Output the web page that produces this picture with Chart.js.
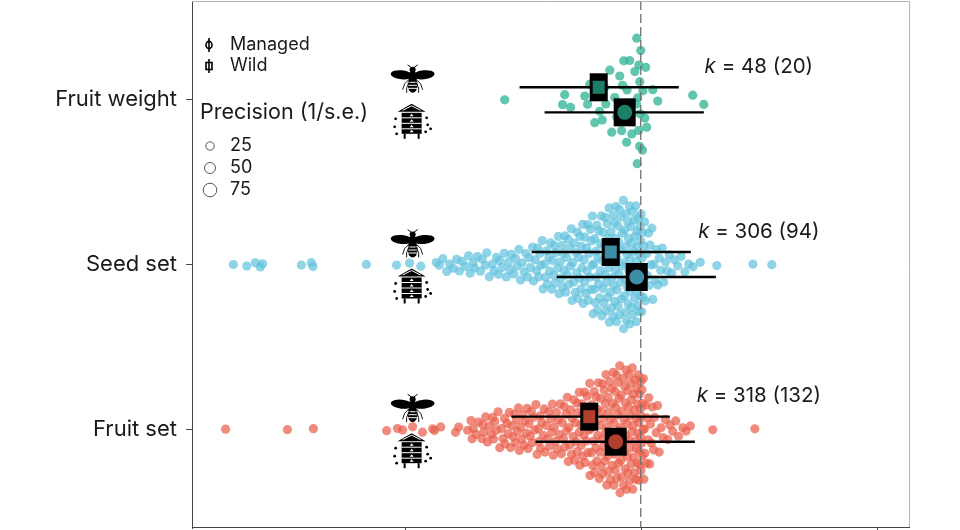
<!DOCTYPE html>
<html>
<head>
<meta charset="utf-8">
<script src="https://cdn.jsdelivr.net/npm/chart.js@4.4.1/dist/chart.umd.min.js"></script>
<style>
  html, body { margin: 0; padding: 0; background: #fff; }
  #wrap { width: 960px; height: 530px; position: relative; }
</style>
</head>
<body>
<div id="wrap"><canvas id="chart"></canvas></div>
<script>
// categories from bottom (y = 1) to top (y = 3)
const categories = ['Fruit set', 'Seed set', 'Fruit weight'];

// effect sizes of single studies
const fruitWeightValues = [
  -0.576, -0.331, -0.322, -0.297, -0.237, -0.225, -0.216, -0.195, -0.178, -0.174,
  -0.165, -0.163, -0.153, -0.148, -0.131, -0.123, -0.110, -0.102, -0.089, -0.081,
  -0.077, -0.075, -0.072, -0.060, -0.058, -0.051, -0.047, -0.038, -0.025, -0.018,
  -0.017, -0.015, -0.013, -0.009, -0.008, -0.005, -0.004, -0.003, 0.000, 0.007,
  0.009, 0.017, 0.021, 0.025, 0.051, 0.072, 0.220, 0.267
];

const seedSetValues = [
  -1.725, -1.668, -1.632, -1.611, -1.601, -1.437, -1.395, -1.388, -1.162, -1.034, -0.979, -0.931, -0.866,
  -0.853, -0.838, -0.821, -0.809, -0.794, -0.779, -0.768, -0.757, -0.741, -0.729,
  -0.722, -0.709, -0.704, -0.691, -0.679, -0.671, -0.658, -0.652, -0.641, -0.628,
  -0.622, -0.611, -0.603, -0.598, -0.587, -0.578, -0.569, -0.561, -0.553, -0.548, -0.537, -0.531,
  -0.524, -0.516, -0.509, -0.502, -0.494, -0.486, -0.479,
  -0.473, -0.467, -0.458, -0.454, -0.447, -0.441, -0.436, -0.432, -0.427,
  -0.423, -0.417, -0.414, -0.408, -0.403, -0.399, -0.396, -0.389, -0.386, -0.382, -0.376,
  -0.374, -0.369, -0.366, -0.362, -0.358, -0.352, -0.349, -0.346, -0.341, -0.338, -0.334, -0.331, -0.327,
  -0.324, -0.321, -0.318, -0.314, -0.311, -0.307, -0.304, -0.301, -0.298, -0.294, -0.291, -0.288, -0.284, -0.281, -0.277,
  -0.274, -0.271, -0.268, -0.266, -0.263, -0.259, -0.257, -0.253, -0.251, -0.249, -0.246, -0.244, -0.240, -0.237, -0.236, -0.232, -0.229, -0.227,
  -0.224, -0.222, -0.219, -0.216, -0.214, -0.212, -0.209, -0.206, -0.205, -0.202, -0.199, -0.197, -0.195, -0.192, -0.190, -0.188, -0.186, -0.183, -0.181, -0.179, -0.177,
  -0.174, -0.171, -0.171, -0.167, -0.165, -0.163, -0.160, -0.159, -0.156, -0.155, -0.152, -0.151, -0.148, -0.146, -0.146, -0.142, -0.140, -0.139, -0.136, -0.134, -0.133, -0.130, -0.128, -0.126,
  -0.124, -0.122, -0.121, -0.118, -0.117, -0.115, -0.114, -0.111, -0.110, -0.108, -0.106, -0.105, -0.103, -0.101, -0.100, -0.097, -0.096, -0.094, -0.092, -0.091, -0.089, -0.087, -0.085, -0.084, -0.081, -0.079, -0.077,
  -0.074, -0.073, -0.071, -0.069, -0.068, -0.066, -0.064, -0.063, -0.061, -0.060, -0.058, -0.056, -0.055, -0.053, -0.052, -0.050, -0.048, -0.047, -0.045, -0.044, -0.042, -0.040, -0.039, -0.037, -0.035, -0.034, -0.032, -0.030, -0.029, -0.026,
  -0.024, -0.022, -0.021, -0.019, -0.018, -0.016, -0.015, -0.013, -0.012, -0.010, -0.009, -0.007, -0.006, -0.004, -0.003, -0.002, 0.000, 0.001, 0.002, 0.004, 0.005, 0.007, 0.008, 0.010, 0.012, 0.013, 0.016, 0.019,
  0.026, 0.029, 0.033, 0.036, 0.040, 0.043, 0.047, 0.051, 0.056, 0.061, 0.066, 0.072,
  0.078, 0.084, 0.091, 0.097, 0.105, 0.112, 0.121,
  0.131, 0.142, 0.156, 0.171, 0.187, 0.203, 0.221, 0.252,
  0.322, 0.475, 0.555
];

const fruitSetValues = [
  -1.758, -1.496, -1.386, -1.076, -1.030, -1.008, -0.966, -0.924, -0.881, -0.873, -0.847, -0.784, -0.771,
  -0.733, -0.719, -0.714, -0.709, -0.698, -0.687,
  -0.672, -0.669, -0.665, -0.657, -0.649, -0.641, -0.633,
  -0.627, -0.623, -0.618, -0.611, -0.604, -0.597, -0.589, -0.583, -0.577,
  -0.574, -0.566, -0.561, -0.556, -0.551, -0.546, -0.541, -0.535, -0.531, -0.526,
  -0.523, -0.518, -0.514, -0.509, -0.504, -0.499, -0.494, -0.489, -0.485, -0.481, -0.477,
  -0.473, -0.468, -0.463, -0.459, -0.454, -0.449, -0.444, -0.439, -0.434, -0.431, -0.426,
  -0.424, -0.419, -0.413, -0.409, -0.405, -0.399, -0.395, -0.390, -0.386, -0.381, -0.377,
  -0.374, -0.370, -0.366, -0.361, -0.357, -0.353, -0.349, -0.344, -0.340, -0.336, -0.332, -0.327,
  -0.324, -0.321, -0.317, -0.314, -0.311, -0.307, -0.304, -0.300, -0.297, -0.293, -0.290, -0.286, -0.283, -0.280, -0.277,
  -0.274, -0.270, -0.269, -0.265, -0.261, -0.260, -0.258, -0.253, -0.252, -0.249, -0.246, -0.245, -0.241, -0.238, -0.236, -0.232, -0.231, -0.227,
  -0.224, -0.221, -0.219, -0.216, -0.215, -0.212, -0.209, -0.207, -0.204, -0.203, -0.200, -0.197, -0.196, -0.193, -0.190, -0.189, -0.186, -0.183, -0.182, -0.179, -0.176,
  -0.174, -0.172, -0.170, -0.168, -0.167, -0.164, -0.162, -0.161, -0.158, -0.156, -0.155, -0.152, -0.150, -0.149, -0.147, -0.144, -0.143, -0.141, -0.138, -0.137, -0.135, -0.132, -0.131, -0.129, -0.127,
  -0.124, -0.123, -0.121, -0.119, -0.118, -0.116, -0.114, -0.113, -0.111, -0.109, -0.108, -0.106, -0.104, -0.103, -0.101, -0.099, -0.098, -0.096, -0.094, -0.093, -0.091, -0.089, -0.088, -0.086, -0.084, -0.083, -0.081, -0.079, -0.077,
  -0.074, -0.073, -0.071, -0.070, -0.068, -0.066, -0.065, -0.063, -0.062, -0.060, -0.058, -0.057, -0.055, -0.054, -0.052, -0.050, -0.049, -0.047, -0.046, -0.044, -0.042, -0.041, -0.039, -0.038, -0.036, -0.034, -0.033, -0.031, -0.030, -0.028, -0.026,
  -0.024, -0.023, -0.021, -0.020, -0.018, -0.017, -0.015, -0.014, -0.012, -0.011, -0.009, -0.008, -0.006, -0.005, -0.004, -0.002, -0.001, 0.000, 0.001, 0.003, 0.004, 0.005, 0.007, 0.008, 0.010, 0.011, 0.013, 0.015, 0.017, 0.020,
  0.024, 0.027, 0.031, 0.034, 0.038, 0.041, 0.045, 0.049, 0.054, 0.059, 0.065, 0.071,
  0.078, 0.086, 0.095, 0.104, 0.114, 0.124,
  0.135, 0.148, 0.160, 0.178, 0.192, 0.210,
  0.305, 0.483
];

// pooled estimates with 95% CI, same order as categories
const wildEstimate = [-0.218, -0.127, -0.178];
const wildLower = [-0.547, -0.462, -0.513];
const wildUpper = [0.123, 0.212, 0.161];
const managedEstimate = [-0.106, -0.017, -0.068];
const managedLower = [-0.445, -0.356, -0.407];
const managedUpper = [0.229, 0.318, 0.267];
const studyCount = [318, 306, 48];
const studyGroups = [132, 94, 20];
const precisionLegend = [25, 50, 75];

const pointColors = ['rgba(233, 96, 76, 0.72)', 'rgba(98, 194, 220, 0.72)', 'rgba(52, 182, 150, 0.78)'];
const markColors = ['#b23f2d', '#3b8ea3', '#1c8069'];
const FONT = 'Inter, Roboto, sans-serif';

// quasirandom (van der Corput) offsets, scaled by a kernel density
function vanDerCorput(n) {
    const out = [];
    for (let i = 1; i <= n; i++) {
        let v = 0, denom = 1, k = i;
        while (k > 0) { denom *= 2; v += (k % 2) / denom; k = Math.floor(k / 2); }
        out.push(v);
    }
    return out;
}

function quasiOffsets(values, width, adjust) {
    const n = values.length;
    const sorted = [...values].sort((a, b) => a - b);
    const mean = values.reduce((s, v) => s + v, 0) / n;
    const sd = Math.sqrt(values.reduce((s, v) => s + (v - mean) ** 2, 0) / (n - 1));
    const q = p => { const h = (n - 1) * p, lo = Math.floor(h); return sorted[lo] + (h - lo) * ((sorted[lo + 1] ?? sorted[lo]) - sorted[lo]); };
    const iqr = q(0.75) - q(0.25);
    const bw = adjust * 0.9 * Math.min(sd, iqr / 1.34) * Math.pow(n, -0.2);
    const dens = values.map(x => values.reduce((s, v) => s + Math.exp(-0.5 * ((x - v) / bw) ** 2), 0));
    const maxD = Math.max(...dens);
    const order = values.map((v, i) => i).sort((a, b) => values[a] - values[b] || a - b);
    const vdc = vanDerCorput(n);
    const offs = new Array(n);
    order.forEach((idx, r) => { offs[idx] = (vdc[r] - 0.5) * 2 * width * dens[idx] / maxD; });
    return offs;
}

const groups = [fruitSetValues, seedSetValues, fruitWeightValues];
const datasets = groups.map((vals, i) => {
    const offs = quasiOffsets(vals, 0.4, 0.7);
    return {
        label: categories[i],
        data: vals.map((v, j) => ({ x: v, y: i + 1 + offs[j] })),
        backgroundColor: pointColors[i],
        borderWidth: 0,
        pointRadius: 4.6,
        pointHoverRadius: 4.6
    };
});

function drawBee(ctx, cx, cy) {
    ctx.save();
    ctx.translate(cx, cy);
    ctx.fillStyle = '#000';
    ctx.strokeStyle = '#000';
    ctx.beginPath(); ctx.ellipse(-11, -5, 11, 4.5, 0.1, 0, Math.PI * 2); ctx.fill();
    ctx.beginPath(); ctx.ellipse(11, -5, 11, 4.5, -0.1, 0, Math.PI * 2); ctx.fill();
    ctx.beginPath(); ctx.arc(0, -10, 3, 0, Math.PI * 2); ctx.fill();
    ctx.lineWidth = 1;
    ctx.beginPath();
    ctx.moveTo(-1, -12); ctx.lineTo(-5, -15);
    ctx.moveTo(1, -12); ctx.lineTo(5, -15);
    ctx.stroke();
    ctx.beginPath(); ctx.arc(0, -4, 4.5, 0, Math.PI * 2); ctx.fill();
    ctx.beginPath(); ctx.ellipse(0, 5, 5, 8, 0, 0, Math.PI * 2); ctx.fill();
    ctx.strokeStyle = '#fff';
    ctx.lineWidth = 1;
    [2.5, 5.5, 8.5].forEach(sy => { ctx.beginPath(); ctx.moveTo(-4.5, sy); ctx.lineTo(4.5, sy); ctx.stroke(); });
    ctx.strokeStyle = '#000';
    ctx.lineWidth = 0.9;
    ctx.beginPath();
    ctx.moveTo(-3, -1); ctx.lineTo(-8, 4); ctx.lineTo(-10, 10);
    ctx.moveTo(3, -1); ctx.lineTo(8, 4); ctx.lineTo(10, 10);
    ctx.moveTo(-3, 2); ctx.lineTo(-6, 8); ctx.lineTo(-6, 13);
    ctx.moveTo(3, 2); ctx.lineTo(6, 8); ctx.lineTo(6, 13);
    ctx.stroke();
    ctx.restore();
}

function drawHive(ctx, cx, cy) {
    ctx.save();
    ctx.translate(cx, cy);
    ctx.fillStyle = '#000';
    ctx.beginPath(); ctx.moveTo(-14, -9); ctx.lineTo(0, -17); ctx.lineTo(14, -9); ctx.closePath(); ctx.fill();
    ctx.strokeStyle = '#fff';
    ctx.lineWidth = 1;
    ctx.beginPath(); ctx.moveTo(-9, -10.5); ctx.lineTo(0, -15); ctx.lineTo(9, -10.5); ctx.stroke();
    ctx.fillRect(-10, -8, 20, 21);
    [-3, 2.5, 8].forEach(sy => { ctx.beginPath(); ctx.moveTo(-10, sy); ctx.lineTo(10, sy); ctx.stroke(); });
    ctx.fillStyle = '#fff';
    [-5.5, 0, 5.5, 10.5].forEach(sy => {
        ctx.beginPath(); ctx.moveTo(-2, sy + 1); ctx.lineTo(0, sy - 1.5); ctx.lineTo(2, sy + 1); ctx.closePath(); ctx.fill();
    });
    ctx.fillStyle = '#000';
    ctx.fillRect(-8, 13, 2, 5);
    ctx.fillRect(6, 13, 2, 5);
    [[-16, -2], [-17, 6], [-15, 13], [15, -3], [16, 4], [14, 11], [19, 8]].forEach(([dx, dy]) => {
        ctx.beginPath(); ctx.arc(dx, dy, 1.4, 0, Math.PI * 2); ctx.fill();
    });
    ctx.restore();
}

const decorPlugin = {
    id: 'decor',
    afterDatasetsDraw(chart) {
        const { ctx, chartArea: a, scales: { x, y } } = chart;
        ctx.save();

        // zero line
        const x0 = x.getPixelForValue(0);
        ctx.strokeStyle = '#707070';
        ctx.lineWidth = 1.3;
        ctx.setLineDash([9, 4]);
        ctx.beginPath(); ctx.moveTo(x0, a.top); ctx.lineTo(x0, a.bottom); ctx.stroke();
        ctx.setLineDash([]);

        // pooled estimates
        const dodge = 0.076;
        categories.forEach((c, i) => {
            const yw = y.getPixelForValue(i + 1 + dodge);
            const ym = y.getPixelForValue(i + 1 - dodge);
            ctx.strokeStyle = '#000';
            ctx.lineWidth = 2.4;
            ctx.beginPath();
            ctx.moveTo(x.getPixelForValue(wildLower[i]), yw); ctx.lineTo(x.getPixelForValue(wildUpper[i]), yw);
            ctx.moveTo(x.getPixelForValue(managedLower[i]), ym); ctx.lineTo(x.getPixelForValue(managedUpper[i]), ym);
            ctx.stroke();

            const xw = x.getPixelForValue(wildEstimate[i]);
            ctx.fillStyle = '#000';
            ctx.fillRect(xw - 9, yw - 14, 18, 28);
            ctx.fillStyle = markColors[i];
            ctx.fillRect(xw - 6, yw - 6.5, 12, 13);

            const xm = x.getPixelForValue(managedEstimate[i]);
            ctx.fillStyle = '#000';
            ctx.fillRect(xm - 11, ym - 14, 22, 28);
            ctx.fillStyle = markColors[i];
            ctx.beginPath(); ctx.arc(xm, ym, 7.5, 0, Math.PI * 2); ctx.fill();

            // wild bee above, managed hive below
            const xi = x.getPixelForValue(-0.97);
            const yc = y.getPixelForValue(i + 1);
            drawBee(ctx, xi + 1, yc - 20);
            drawHive(ctx, xi, yc + 21);

            // k labels
            const xk = x.getPixelForValue(0.5);
            const rest = ' = ' + studyCount[i] + ' (' + studyGroups[i] + ')';
            ctx.fillStyle = '#1a1a1a';
            ctx.textBaseline = 'alphabetic';
            ctx.font = 'italic 20.5px ' + FONT;
            const wk = ctx.measureText('k').width;
            ctx.font = '20.5px ' + FONT;
            const wr = ctx.measureText(rest).width;
            const left = xk - (wk + wr) / 2;
            ctx.font = 'italic 20.5px ' + FONT;
            ctx.fillText('k', left, yc - 27);
            ctx.font = '20.5px ' + FONT;
            ctx.fillText(rest, left + wk, yc - 27);
        });

        // legend: line types
        ctx.strokeStyle = '#000';
        ctx.fillStyle = '#1a1a1a';
        ctx.lineWidth = 1.6;
        ctx.beginPath(); ctx.moveTo(209, 38); ctx.lineTo(209, 52); ctx.stroke();
        ctx.beginPath(); ctx.ellipse(209, 45, 3, 3.6, 0, 0, Math.PI * 2); ctx.stroke();
        ctx.beginPath(); ctx.moveTo(209, 59); ctx.lineTo(209, 73); ctx.stroke();
        ctx.strokeRect(206, 62.5, 6, 7);
        ctx.font = '18px ' + FONT;
        ctx.textBaseline = 'middle';
        ctx.fillText('Managed', 230, 45);
        ctx.fillText('Wild', 230, 66);

        // legend: precision
        ctx.font = '21.5px ' + FONT;
        ctx.fillText('Precision (1/s.e.)', 200, 113);
        ctx.font = '18px ' + FONT;
        ctx.strokeStyle = '#555';
        ctx.lineWidth = 1;
        precisionLegend.forEach((p, j) => {
            const ly = 146 + j * 22;
            ctx.beginPath(); ctx.arc(210, ly, 4.2 + j * 1.3, 0, Math.PI * 2); ctx.stroke();
            ctx.fillText(String(p), 230, ly);
        });

        ctx.restore();
    },
    afterDraw(chart) {
        const { ctx, chartArea: a, scales: { x } } = chart;
        ctx.save();
        ctx.lineWidth = 1;
        ctx.strokeStyle = '#b5b5b5';
        ctx.beginPath(); ctx.moveTo(a.left, a.top + 0.5); ctx.lineTo(a.right - 0.5, a.top + 0.5); ctx.lineTo(a.right - 0.5, a.bottom); ctx.stroke();
        ctx.strokeStyle = '#444';
        ctx.beginPath(); ctx.moveTo(a.left, a.bottom - 0.5); ctx.lineTo(a.right, a.bottom - 0.5); ctx.stroke();
        [-1, 0, 1].forEach(v => {
            const px = Math.round(x.getPixelForValue(v)) + 0.5;
            ctx.beginPath(); ctx.moveTo(px, a.bottom); ctx.lineTo(px, a.bottom + 4); ctx.stroke();
        });
        ctx.restore();
    }
};

new Chart(document.getElementById('chart'), {
    type: 'scatter',
    data: { datasets: datasets },
    options: {
        responsive: true,
        maintainAspectRatio: false,
        animation: false,
        layout: { autoPadding: false, padding: { left: 0, right: 50, top: 1, bottom: 2 } },
        plugins: { legend: { display: false }, tooltip: { enabled: false } },
        scales: {
            x: { type: 'linear', min: -1.9, max: 1.14, display: false },
            y: {
                type: 'linear', min: 0.4, max: 3.6,
                afterBuildTicks: s => { s.ticks = [1, 2, 3].map(v => ({ value: v })); },
                afterFit: s => { s.width = 192; s.paddingTop = 0; s.paddingBottom = 0; },
                ticks: {
                    callback: v => categories[v - 1],
                    font: { family: FONT, size: 22 },
                    color: '#1a1a1a',
                    padding: 9
                },
                grid: { drawOnChartArea: false, tickLength: 6, color: '#444', lineWidth: 1 },
                border: { display: true, color: '#444', width: 1 }
            }
        }
    },
    plugins: [decorPlugin]
});
</script>
</body>
</html>
